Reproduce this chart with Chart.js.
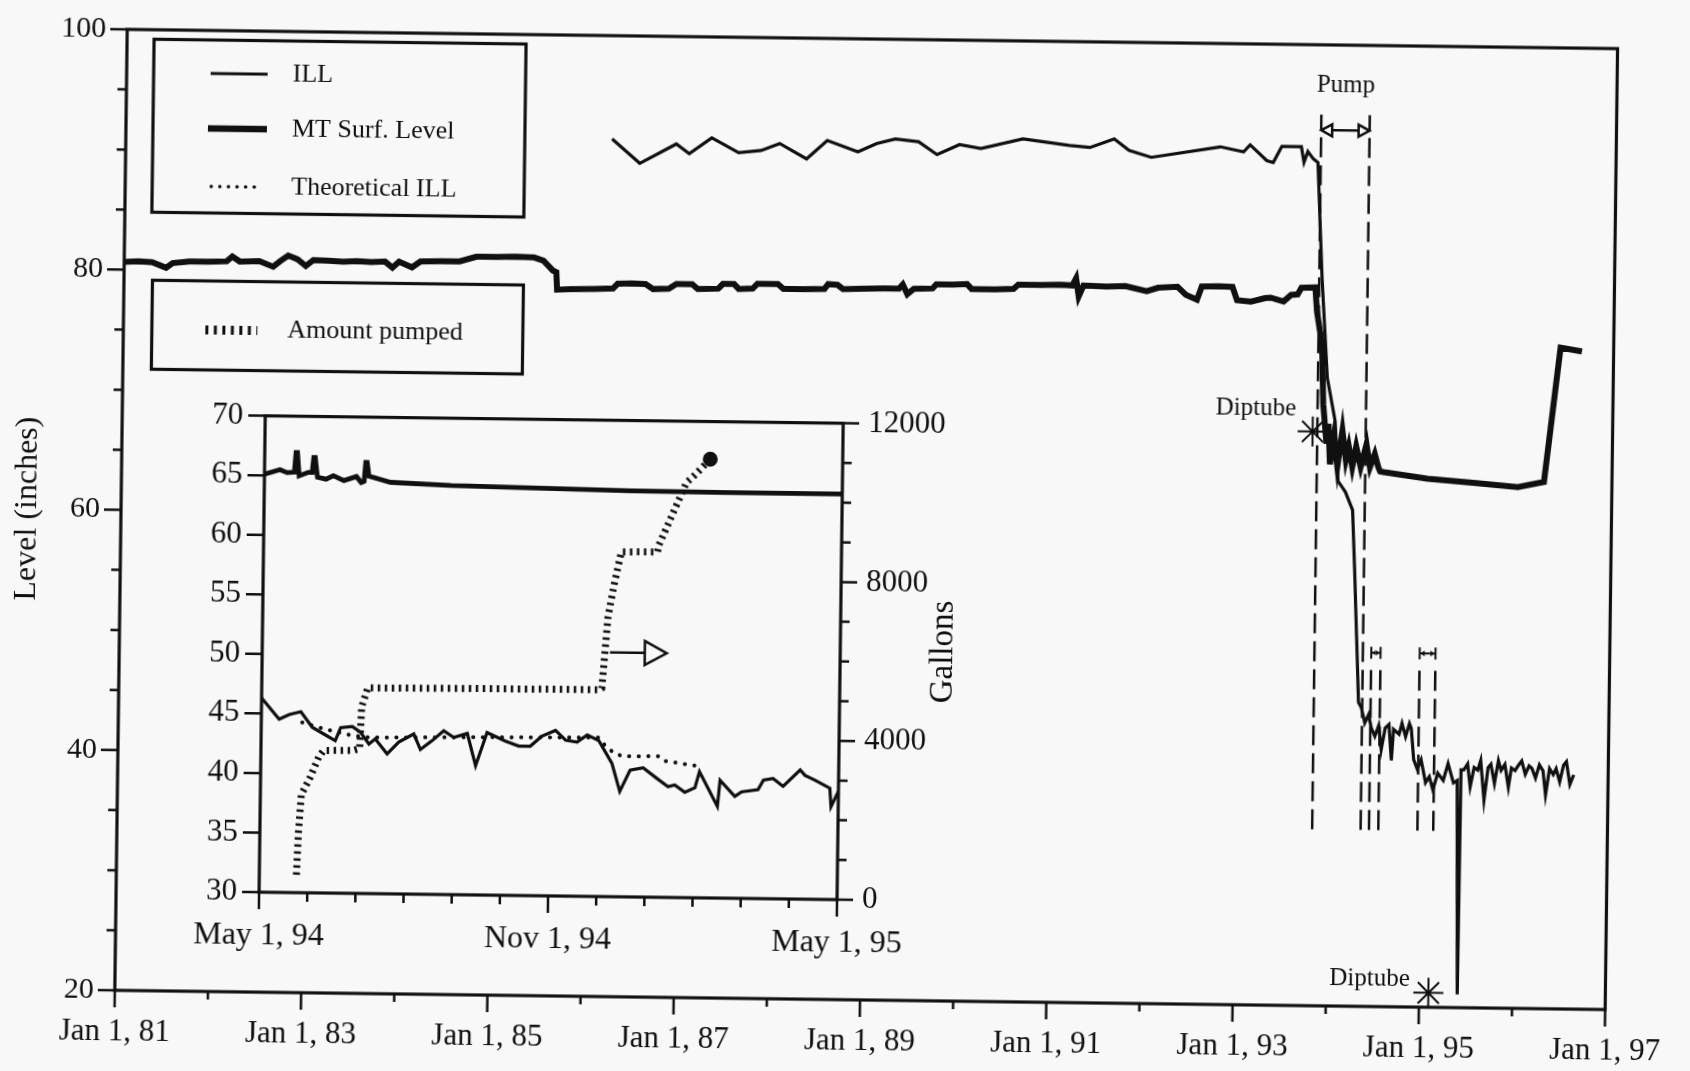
<!DOCTYPE html>
<html>
<head>
<meta charset="utf-8">
<title>ILL and MT surface level</title>
<script src="https://cdn.jsdelivr.net/npm/chart.js@4.4.1/dist/chart.umd.min.js"></script>
<style>
  html, body { margin: 0; padding: 0; background: #f8f8f8; overflow: hidden; }
  /* the scanned original sits slightly askew on the page */
  #wrap { position: relative; width: 1690px; height: 1071px; transform: rotate(0.74deg); transform-origin: 868px 516px; }
  #main { position: absolute; left: 0; top: 0; }
  #inset { position: absolute; left: 150px; top: 380px; }
</style>
</head>
<body>
<div id="wrap">
  <canvas id="main" width="1690" height="1071"></canvas>
  <canvas id="inset" width="830" height="600"></canvas>
</div>
<script>
const INK = '#101010';
const PAPER = '#f8f8f8';
const SERIF = '"Liberation Serif", "Times New Roman", serif';

// ---- main chart: decimal years vs level (inches)
const illYears = [1986.22, 1986.52, 1986.91, 1987.05, 1987.29, 1987.58, 1987.82, 1988.02, 1988.31, 1988.53,
  1988.86, 1989.06, 1989.26, 1989.51, 1989.71, 1989.95, 1990.18, 1990.63, 1991.13, 1991.35,
  1991.61, 1991.77, 1992.01, 1992.75, 1993.00, 1993.07, 1993.25, 1993.32, 1993.41, 1993.62,
  1993.65, 1993.69, 1993.75, 1993.80, 1993.86, 1993.93, 1994.02, 1994.06, 1994.14, 1994.22,
  1994.25, 1994.28, 1994.31, 1994.34, 1994.38, 1994.42, 1994.45, 1994.49, 1994.53, 1994.56,
  1994.60, 1994.64, 1994.67, 1994.69, 1994.75, 1994.78, 1994.82, 1994.86, 1994.88, 1994.91,
  1994.95, 1994.99, 1995.04, 1995.08, 1995.12, 1995.17, 1995.23, 1995.28, 1995.34, 1995.38,
  1995.41, 1995.42, 1995.45, 1995.49, 1995.52, 1995.56, 1995.60, 1995.63, 1995.67, 1995.71,
  1995.74, 1995.78, 1995.82, 1995.85, 1995.89, 1995.93, 1995.96, 1996.00, 1996.04, 1996.07,
  1996.11, 1996.15, 1996.18, 1996.22, 1996.26, 1996.30, 1996.33, 1996.37, 1996.41, 1996.44,
  1996.48, 1996.52, 1996.55, 1996.59, 1996.63];
const illLevels = [91.4, 89.4, 91.05, 90.25, 91.6, 90.4, 90.6, 91.2, 89.95, 91.5,
  90.6, 91.3, 91.7, 91.5, 90.45, 91.3, 91.0, 91.85, 91.35, 91.2,
  91.95, 91.0, 90.45, 91.4, 91.0, 91.6, 90.3, 90.15, 91.5, 91.5,
  90.2, 91.1, 90.5, 90.2, 80.6, 72.3, 68.7, 63.7, 62.8, 61.3,
  56.3, 50.8, 45.3, 44.9, 43.6, 44.3, 43.2, 42.5, 43.4, 41.4,
  43.2, 43.5, 40.5, 43.1, 42.7, 43.6, 42.5, 43.6, 43.2, 40.6,
  39.8, 40.6, 38.7, 39.2, 38.1, 39.5, 38.9, 40.3, 38.7, 38.9,
  21.1, 39.8, 39.8, 40.3, 38.4, 40.0, 39.8, 40.6, 37.3, 40.0,
  40.3, 38.7, 40.6, 39.8, 40.3, 38.4, 40.0, 39.8, 40.3, 40.6,
  39.5, 40.2, 40.0, 39.2, 40.3, 39.8, 37.8, 40.0, 39.5, 40.0,
  38.9, 40.3, 40.6, 38.7, 39.5];

const mtYears = [1981.00, 1981.15, 1981.30, 1981.45, 1981.52, 1981.70, 1981.90, 1982.10, 1982.16, 1982.24,
  1982.45, 1982.60, 1982.68, 1982.76, 1982.86, 1982.95, 1983.03, 1983.20, 1983.35, 1983.50,
  1983.65, 1983.80, 1983.88, 1983.95, 1984.09, 1984.18, 1984.40, 1984.60, 1984.78, 1985.00,
  1985.20, 1985.40, 1985.50, 1985.55, 1985.60, 1985.64, 1985.65, 1985.80, 1986.05, 1986.25,
  1986.30, 1986.45, 1986.60, 1986.68, 1986.85, 1986.93, 1987.10, 1987.16, 1987.38, 1987.43,
  1987.55, 1987.60, 1987.75, 1987.80, 1988.02, 1988.08, 1988.30, 1988.52, 1988.56, 1988.66,
  1988.72, 1988.95, 1989.15, 1989.32, 1989.36, 1989.41, 1989.48, 1989.68, 1989.72, 1989.90,
  1990.05, 1990.10, 1990.35, 1990.55, 1990.60, 1990.85, 1991.05, 1991.18, 1991.22, 1991.25,
  1991.30, 1991.55, 1991.75, 1991.98, 1992.10, 1992.31, 1992.40, 1992.52, 1992.57, 1992.75,
  1992.90, 1992.95, 1993.10, 1993.25, 1993.31, 1993.45, 1993.53, 1993.60, 1993.64, 1993.79,
  1993.81, 1993.87, 1993.89, 1993.93, 1993.95, 1993.97, 1994.01, 1994.05, 1994.10, 1994.14,
  1994.17, 1994.21, 1994.25, 1994.30, 1994.36, 1994.40, 1994.45, 1994.49, 1994.51, 1994.55,
  1995.02, 1995.51, 1995.99, 1996.27, 1996.43, 1996.66];
const mtLevels = [80.65, 80.7, 80.65, 80.2, 80.6, 80.75, 80.75, 80.8, 81.2, 80.8,
  80.85, 80.4, 80.9, 81.35, 81.05, 80.5, 81.0, 80.95, 80.9, 80.95,
  80.9, 80.95, 80.45, 80.95, 80.5, 81.0, 81.05, 81.05, 81.45, 81.45,
  81.5, 81.45, 81.2, 80.8, 80.4, 80.25, 78.8, 78.85, 78.9, 78.95,
  79.35, 79.4, 79.35, 78.95, 79.0, 79.4, 79.4, 79.0, 79.05, 79.45,
  79.45, 79.05, 79.1, 79.5, 79.5, 79.1, 79.1, 79.15, 79.55, 79.5,
  79.15, 79.2, 79.25, 79.25, 79.6, 78.8, 79.25, 79.3, 79.65, 79.65,
  79.7, 79.3, 79.3, 79.35, 79.7, 79.7, 79.75, 79.7, 80.3, 78.8,
  79.7, 79.65, 79.7, 79.3, 79.6, 79.7, 79.05, 78.65, 79.75, 79.8,
  79.75, 78.65, 78.55, 78.85, 78.9, 78.6, 79.15, 79.2, 79.75, 79.8,
  77.8, 75.0, 70.1, 66.8, 68.45, 65.1, 67.4, 64.9, 67.9, 65.5,
  66.6, 64.9, 66.6, 64.9, 66.8, 64.9, 66.0, 64.9, 64.55, 64.5,
  64.0, 63.7, 63.4, 63.85, 75.05, 74.75];

// pumping periods (dashed verticals) and diptube events
const markYears = [1993.83, 1994.35, 1994.44, 1994.54, 1994.96, 1995.13];
const markTops = [94.2, 94.2, 48.6, 48.6, 48.6, 48.6];
const markBottom = 34.7;
const diptubeYears = [1993.78, 1995.10];
const diptubeLevels = [67.8, 21.2];

const yearTicks = [1981, 1983, 1985, 1987, 1989, 1991, 1993, 1995, 1997];
const yearLabels = ['Jan 1, 81', 'Jan 1, 83', 'Jan 1, 85', 'Jan 1, 87', 'Jan 1, 89',
  'Jan 1, 91', 'Jan 1, 93', 'Jan 1, 95', 'Jan 1, 97'];

// ---- inset: months after May 1, 94
const inIllMonths = [0.0, 0.37, 0.58, 0.82, 1.06, 1.30, 1.54, 1.65, 1.89, 2.06,
  2.24, 2.37, 2.62, 2.86, 3.17, 3.31, 3.55, 3.79, 4.00, 4.28,
  4.46, 4.69, 5.07, 5.35, 5.59, 5.83, 6.11, 6.32, 6.56, 6.77,
  7.01, 7.29, 7.46, 7.67, 7.94, 8.22, 8.46, 8.60, 8.81, 9.02,
  9.11, 9.49, 9.54, 9.85, 9.99, 10.33, 10.44, 10.64, 10.85, 11.20,
  11.30, 11.51, 11.82, 11.85, 12.0];
const inIllLevels = [46.3, 44.55, 44.95, 45.2, 43.9, 43.35, 42.8, 43.9, 44.0, 43.55,
  42.55, 43.0, 41.75, 42.75, 43.45, 42.15, 42.9, 43.75, 43.2, 43.55,
  40.85, 43.65, 42.95, 42.55, 42.55, 43.4, 43.9, 43.1, 42.95, 43.55,
  43.1, 41.2, 38.85, 40.65, 40.85, 40.0, 39.3, 39.45, 38.85, 39.25,
  40.6, 37.7, 39.9, 38.55, 38.95, 39.15, 39.95, 40.1, 39.45, 40.85,
  40.4, 40.0, 39.35, 37.8, 39.1];
const inTheoMonths = [0.85, 1.33, 1.89, 2.24, 4.59, 7.01, 7.14, 7.35, 7.53, 8.26, 8.39, 9.19];
const inTheoLevels = [44.3, 43.75, 43.25, 43.1, 43.25, 43.35, 42.7, 42.0, 41.8, 41.85, 41.45, 41.0];
const inMtMonths = [0, 0.32, 0.47, 0.62, 0.65, 0.68, 0.72, 0.91, 0.99, 1.02,
  1.05, 1.10, 1.28, 1.43, 1.65, 1.91, 2.01, 2.07, 2.10, 2.13,
  2.17, 2.62, 3.88, 5.36, 7.59, 9.56, 12.0];
const inMtLevels = [65.1, 65.5, 65.25, 65.3, 66.95, 66.95, 65.0, 65.3, 65.3, 66.55,
  66.55, 64.9, 64.75, 65.05, 64.65, 65.0, 64.5, 64.6, 66.2, 66.2,
  65.05, 64.55, 64.35, 64.25, 64.1, 64.05, 64.05];
const pumpMonths = [0.77, 0.80, 0.85, 1.02, 1.20, 1.30, 1.92, 2.05, 2.08, 2.20,
  4.50, 7.01, 7.06, 7.17, 7.29, 7.43, 8.18, 8.21, 8.62, 8.76, 8.92, 9.25];
const pumpGallons = [450, 1500, 2470, 2880, 3420, 3590, 3600, 3650, 4700, 5180,
  5200, 5210, 5250, 7050, 7870, 8690, 8700, 8880, 10050, 10450, 10630, 11050];

const monthTicks = [0, 6, 12];
const monthLabels = ['May 1, 94', 'Nov 1, 94', 'May 1, 95'];

function pts(xs, ys) { return xs.map((x, i) => ({ x: x, y: ys[i] })); }

function tickFont(size) { return { family: SERIF, size: size }; }

// draws the outward tick marks of one scale
function drawTicks(chart, id, side, isMajor, majorLen, minorLen) {
  const s = chart.scales[id], a = chart.chartArea, ctx = chart.ctx;
  ctx.save();
  ctx.strokeStyle = INK;
  ctx.lineWidth = 2.5;
  ctx.beginPath();
  s.ticks.forEach(t => {
    const p = s.getPixelForValue(t.value);
    const len = isMajor(t.value) ? majorLen : minorLen;
    if (side === 'bottom') { ctx.moveTo(p, a.bottom); ctx.lineTo(p, a.bottom + len); }
    if (side === 'left') { ctx.moveTo(a.left, p); ctx.lineTo(a.left - len, p); }
    if (side === 'right') { ctx.moveTo(a.right, p); ctx.lineTo(a.right + len, p); }
  });
  ctx.stroke();
  ctx.restore();
}

function drawFrame(chart) {
  const a = chart.chartArea, ctx = chart.ctx;
  ctx.save();
  ctx.strokeStyle = INK;
  ctx.lineWidth = 3.2;
  ctx.strokeRect(a.left, a.top, a.right - a.left, a.bottom - a.top);
  ctx.restore();
}

function openHead(ctx, tipX, tipY, dir, len, half) {
  ctx.beginPath();
  ctx.moveTo(tipX, tipY);
  ctx.lineTo(tipX - dir * len, tipY - half);
  ctx.lineTo(tipX - dir * len, tipY + half);
  ctx.closePath();
  ctx.fillStyle = PAPER;
  ctx.fill();
  ctx.stroke();
}

function sample(ctx, x1, x2, y, width, dash, cap) {
  ctx.save();
  ctx.lineWidth = width;
  ctx.setLineDash(dash);
  ctx.lineCap = cap;
  ctx.beginPath();
  ctx.moveTo(x1, y);
  ctx.lineTo(x2, y);
  ctx.stroke();
  ctx.restore();
}

const mainDecor = {
  id: 'mainDecor',
  afterDraw(chart) {
    const ctx = chart.ctx, xs = chart.scales.x, ys = chart.scales.y;
    drawFrame(chart);
    drawTicks(chart, 'x', 'bottom', v => yearTicks.includes(v), 17, 8);
    drawTicks(chart, 'y', 'left', v => v % 20 === 0, 17, 9);

    ctx.save();
    ctx.strokeStyle = INK;
    ctx.fillStyle = INK;

    // legend boxes
    ctx.lineWidth = 3.2;
    ctx.strokeRect(148, 48.5, 372, 173);
    ctx.strokeRect(149.5, 289.5, 371, 89);
    sample(ctx, 205, 262, 82, 2.8, [], 'butt');
    sample(ctx, 203, 262, 137, 6.5, [], 'butt');
    sample(ctx, 207, 257, 195, 3.5, [0.1, 8.5], 'round');
    sample(ctx, 203, 255, 338.5, 9, [3, 5.5], 'butt');
    ctx.font = '26px ' + SERIF;
    ctx.textBaseline = 'middle';
    ctx.textAlign = 'left';
    ctx.fillText('ILL', 287, 82);
    ctx.fillText('MT Surf. Level', 287, 137);
    ctx.fillText('Theoretical ILL', 287, 195);
    ctx.fillText('Amount pumped', 285, 338.5);

    // pump period arrow
    const p0 = xs.getPixelForValue(markYears[0]);
    const p1 = xs.getPixelForValue(markYears[1]);
    const py = ys.getPixelForValue(92.9);
    ctx.lineWidth = 2.5;
    ctx.beginPath();
    ctx.moveTo(p0, py);
    ctx.lineTo(p1, py);
    ctx.stroke();
    openHead(ctx, p0, py, -1, 11, 6);
    openHead(ctx, p1, py, 1, 11, 6);
    ctx.fillStyle = INK;
    ctx.font = '25px ' + SERIF;
    ctx.textAlign = 'center';
    ctx.fillText('Pump', (p0 + p1) / 2, ys.getPixelForValue(96.6));

    // short pump periods
    const sy = ys.getPixelForValue(49.45);
    [[2, 3], [4, 5]].forEach(([i, j]) => {
      const a = xs.getPixelForValue(markYears[i]);
      const b = xs.getPixelForValue(markYears[j]);
      ctx.lineWidth = 2;
      ctx.beginPath();
      ctx.moveTo(a, sy); ctx.lineTo(b, sy);
      ctx.moveTo(a, sy - 6); ctx.lineTo(a, sy + 6);
      ctx.moveTo(b, sy - 6); ctx.lineTo(b, sy + 6);
      ctx.stroke();
      ctx.beginPath();
      ctx.moveTo(a + 1, sy); ctx.lineTo(a + 5, sy - 3); ctx.lineTo(a + 5, sy + 3); ctx.closePath();
      ctx.moveTo(b - 1, sy); ctx.lineTo(b - 5, sy - 3); ctx.lineTo(b - 5, sy + 3); ctx.closePath();
      ctx.fill();
    });

    // diptube labels
    ctx.font = '25px ' + SERIF;
    ctx.textAlign = 'right';
    ctx.fillText('Diptube', xs.getPixelForValue(1993.60), ys.getPixelForValue(69.7));
    ctx.fillText('Diptube', xs.getPixelForValue(1994.90), ys.getPixelForValue(22.3));
    ctx.restore();
  }
};

const mainChart = new Chart(document.getElementById('main'), {
  type: 'line',
  data: {
    datasets: [
      { label: 'ILL', data: pts(illYears, illLevels), borderColor: INK, borderWidth: 3.2, pointRadius: 0 },
      { label: 'MT Surf. Level', data: pts(mtYears, mtLevels), borderColor: INK, borderWidth: 6, pointRadius: 0 },
      ...markYears.map((yr, i) => ({
        label: 'pump mark', data: [{ x: yr, y: markBottom }, { x: yr, y: markTops[i] }],
        borderColor: INK, borderWidth: 2.5, borderDash: [20, 8], pointRadius: 0
      })),
      { label: 'Diptube', data: pts(diptubeYears, diptubeLevels), showLine: false, pointStyle: 'star',
        pointRadius: 15, pointHoverRadius: 15, pointBorderColor: INK, pointBorderWidth: 2,
        pointBackgroundColor: 'transparent', clip: false }
    ]
  },
  options: {
    responsive: false,
    animation: false,
    devicePixelRatio: 1,
    layout: { padding: { left: 0, right: 74, top: 33, bottom: 0 } },
    plugins: { legend: { display: false }, tooltip: { enabled: false } },
    elements: { line: { tension: 0 } },
    scales: {
      x: {
        type: 'linear', min: 1981, max: 1997,
        grid: { display: false, drawTicks: false }, border: { display: false },
        ticks: {
          stepSize: 1, maxTicksLimit: 100, autoSkip: false, maxRotation: 0, minRotation: 0,
          padding: 23, color: INK, font: tickFont(31),
          callback: v => { const i = yearTicks.indexOf(v); return i < 0 ? '' : yearLabels[i]; }
        },
        afterFit: s => { s.height = 71; }
      },
      y: {
        min: 20, max: 100,
        grid: { display: false, drawTicks: false }, border: { display: false },
        ticks: {
          stepSize: 5, maxTicksLimit: 100, autoSkip: false, padding: 21, color: INK, font: tickFont(30),
          callback: v => (v % 20 === 0 ? String(v) : '')
        },
        title: { display: true, text: 'Level (inches)', color: INK, font: tickFont(32), padding: { top: 8, bottom: 0 } },
        afterFit: s => { s.width = 121; }
      }
    }
  },
  plugins: [mainDecor]
});

const insetDecor = {
  id: 'insetDecor',
  afterDraw(chart) {
    const ctx = chart.ctx, xs = chart.scales.x, ys = chart.scales.y;
    drawFrame(chart);
    drawTicks(chart, 'x', 'bottom', v => monthTicks.includes(v), 17, 9);
    drawTicks(chart, 'y', 'left', () => true, 17, 17);
    drawTicks(chart, 'y2', 'right', v => v % 4000 === 0, 16, 9);

    ctx.save();
    ctx.fillStyle = INK;
    // right axis title, reading upward
    ctx.translate(795.7, 271);
    ctx.rotate(-Math.PI / 2);
    ctx.font = '33px ' + SERIF;
    ctx.textAlign = 'center';
    ctx.textBaseline = 'middle';
    ctx.fillText('Gallons', 0, 0);
    ctx.restore();

    // arrow pointing at the gallons axis
    ctx.save();
    ctx.strokeStyle = INK;
    ctx.lineWidth = 2.5;
    const ay = ys.getPixelForValue(50.5);
    const tip = xs.getPixelForValue(8.40);
    ctx.beginPath();
    ctx.moveTo(xs.getPixelForValue(7.22), ay);
    ctx.lineTo(tip - 22, ay);
    ctx.stroke();
    openHead(ctx, tip, ay, 1, 22, 12);
    ctx.restore();
  }
};

const insetChart = new Chart(document.getElementById('inset'), {
  type: 'line',
  data: {
    datasets: [
      { label: 'ILL', data: pts(inIllMonths, inIllLevels), borderColor: INK, borderWidth: 3.2, pointRadius: 0 },
      { label: 'MT Surf. Level', data: pts(inMtMonths, inMtLevels), borderColor: INK, borderWidth: 4.8, pointRadius: 0 },
      { label: 'Theoretical ILL', data: pts(inTheoMonths, inTheoLevels), borderColor: INK, borderWidth: 4,
        borderDash: [0.1, 9.5], borderCapStyle: 'round', pointRadius: 0 },
      { label: 'Amount pumped', data: pts(pumpMonths, pumpGallons), yAxisID: 'y2', borderColor: INK,
        borderWidth: 7, borderDash: [2.5, 4.5], borderCapStyle: 'butt',
        pointRadius: pumpMonths.map((m, i) => (i === pumpMonths.length - 1 ? 4 : 0)),
        pointBackgroundColor: INK, pointBorderColor: INK }
    ]
  },
  options: {
    responsive: false,
    animation: false,
    devicePixelRatio: 1,
    layout: { padding: { left: 0, right: 0, top: 37, bottom: 0 } },
    plugins: { legend: { display: false }, tooltip: { enabled: false } },
    elements: { line: { tension: 0 } },
    scales: {
      x: {
        type: 'linear', min: 0, max: 12,
        grid: { display: false, drawTicks: false }, border: { display: false },
        ticks: {
          stepSize: 1, maxTicksLimit: 100, autoSkip: false, maxRotation: 0, minRotation: 0,
          padding: 24, color: INK, font: tickFont(32),
          callback: v => { const i = monthTicks.indexOf(v); return i < 0 ? '' : monthLabels[i]; }
        },
        afterFit: s => { s.height = 80; }
      },
      y: {
        position: 'left', min: 30, max: 70,
        grid: { display: false, drawTicks: false }, border: { display: false },
        ticks: { stepSize: 5, maxTicksLimit: 100, autoSkip: false, padding: 22, color: INK, font: tickFont(31) },
        afterFit: s => { s.width = 114; }
      },
      y2: {
        position: 'right', min: 0, max: 12000,
        grid: { display: false, drawTicks: false }, border: { display: false },
        ticks: {
          stepSize: 1000, maxTicksLimit: 100, autoSkip: false, padding: 25, color: INK, font: tickFont(31),
          callback: v => (v % 4000 === 0 ? String(v) : '')
        },
        afterFit: s => { s.width = 138; }
      }
    }
  },
  plugins: [insetDecor]
});
</script>
</body>
</html>
